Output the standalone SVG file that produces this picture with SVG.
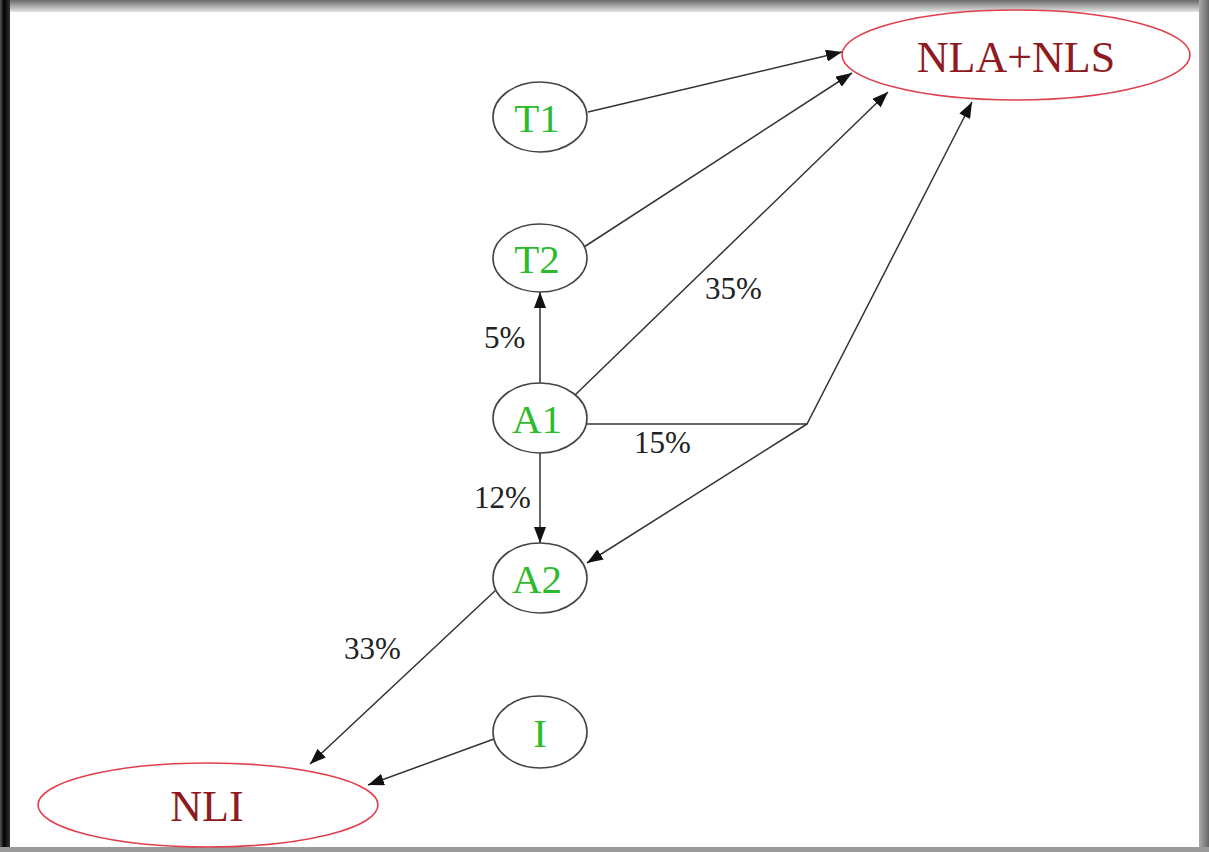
<svg xmlns="http://www.w3.org/2000/svg" width="1209" height="852" viewBox="0 0 1209 852">
  <defs>
    <marker id="arrow" viewBox="0 0 16 12" refX="16" refY="6" markerWidth="16" markerHeight="12" markerUnits="userSpaceOnUse" orient="auto">
      <path d="M0,0 L16,6 L0,12 Z" fill="#111"/>
    </marker>
    <linearGradient id="topBand" x1="0" y1="0" x2="0" y2="1">
      <stop offset="0" stop-color="#6a6a6a"/>
      <stop offset="1" stop-color="#e4e4e4"/>
    </linearGradient>
    <linearGradient id="leftBand" x1="0" y1="0" x2="1" y2="0">
      <stop offset="0" stop-color="#555"/>
      <stop offset="0.4" stop-color="#000"/>
      <stop offset="1" stop-color="#333"/>
    </linearGradient>
    <linearGradient id="rightBand" x1="0" y1="0" x2="1" y2="0">
      <stop offset="0" stop-color="#aaa"/>
      <stop offset="1" stop-color="#666"/>
    </linearGradient>
  </defs>
  <style>
    .small { fill: #fff; stroke: #444; stroke-width: 1.6; }
    .big { fill: #fff; stroke: #e0404c; stroke-width: 1.6; }
    text { font-family: "Liberation Serif", "DejaVu Serif", "Times New Roman", serif; }
    .lbl { font-size: 41px; fill: #2dbb2d; text-anchor: middle; }
    .blbl { font-size: 44px; fill: #8e1a22; text-anchor: middle; }
    .edge { fill: none; stroke: #333; stroke-width: 1.5; }
    .pct { font-size: 31px; fill: #222; }
  </style>

  <!-- page background and frame -->
  <rect x="0" y="0" width="1209" height="852" fill="#fff"/>
  <rect x="0" y="0" width="1209" height="12" fill="url(#topBand)"/>
  <rect x="0" y="0" width="10" height="852" fill="url(#leftBand)"/>
  <rect x="1199" y="0" width="10" height="852" fill="url(#rightBand)"/>
  <rect x="0" y="847" width="1209" height="5" fill="#9a9a9a"/>

  <!-- connectors -->
  <g id="connectors">
    <line class="edge" x1="588" y1="112" x2="842" y2="52" marker-end="url(#arrow)"/>
    <line class="edge" x1="584" y1="247" x2="852" y2="73" marker-end="url(#arrow)"/>
    <line class="edge" x1="575" y1="395" x2="888" y2="92" marker-end="url(#arrow)"/>
    <line class="edge" x1="540" y1="383" x2="540" y2="292" marker-end="url(#arrow)"/>
    <line class="edge" x1="540" y1="453" x2="540" y2="543" marker-end="url(#arrow)"/>
    <polyline class="edge" points="587,424 807,424 972,102" marker-end="url(#arrow)"/>
    <line class="edge" x1="807" y1="424" x2="587" y2="563" marker-end="url(#arrow)"/>
    <line class="edge" x1="497" y1="589" x2="310" y2="764" marker-end="url(#arrow)"/>
    <line class="edge" x1="494" y1="739" x2="368" y2="785" marker-end="url(#arrow)"/>
    <text class="pct" x="705" y="299">35%</text>
    <text class="pct" x="484" y="348">5%</text>
    <text class="pct" x="634" y="453">15%</text>
    <text class="pct" x="474" y="508">12%</text>
    <text class="pct" x="344" y="659">33%</text>
  </g>

  <!-- nodes -->
  <g id="node-nla-nls">
    <ellipse class="big" cx="1016" cy="55" rx="174" ry="45"/>
    <text class="blbl" x="1016" y="72">NLA+NLS</text>
  </g>
  <g id="node-t1">
    <ellipse class="small" cx="540" cy="117" rx="47" ry="35"/>
    <text class="lbl" x="537" y="132">T1</text>
  </g>
  <g id="node-t2">
    <ellipse class="small" cx="540" cy="258" rx="47" ry="34"/>
    <text class="lbl" x="537" y="273">T2</text>
  </g>
  <g id="node-a1">
    <ellipse class="small" cx="540" cy="418" rx="47" ry="35"/>
    <text class="lbl" x="537" y="433">A1</text>
  </g>
  <g id="node-a2">
    <ellipse class="small" cx="540" cy="578" rx="47" ry="35"/>
    <text class="lbl" x="537" y="593">A2</text>
  </g>
  <g id="node-i">
    <ellipse class="small" cx="540" cy="732" rx="47" ry="36"/>
    <text class="lbl" x="540" y="747">I</text>
  </g>
  <g id="node-nli">
    <ellipse class="big" cx="208" cy="805" rx="170" ry="42"/>
    <text class="blbl" x="207" y="821">NLI</text>
  </g>
</svg>
